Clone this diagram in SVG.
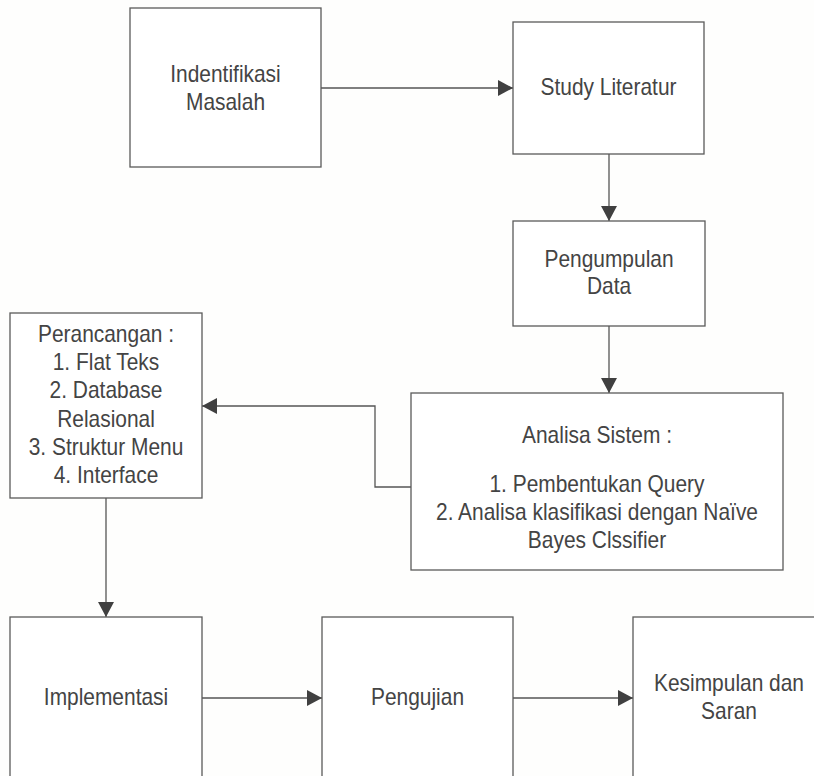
<svg xmlns="http://www.w3.org/2000/svg" width="814" height="776" viewBox="0 0 814 776">
<style>
.box{fill:#ffffff;stroke:#5a5a5a;stroke-width:1.3}
.lbl{font-family:"Liberation Sans",Arial,sans-serif;font-size:23px;fill:#444444;text-anchor:middle}
.conn{fill:none;stroke:#555555;stroke-width:1.3}
</style>
<defs>
<marker id="arr" markerUnits="userSpaceOnUse" markerWidth="17" markerHeight="17" refX="15" refY="8" orient="auto">
<path d="M0,0 L15,8 L0,16 z" fill="#404040"/>
</marker>
</defs>
<rect x="0" y="0" width="814" height="776" fill="#fefefd"/>
<g id="connectors">
<path class="conn" d="M321,88 H513" marker-end="url(#arr)"/>
<path class="conn" d="M609,154 V221" marker-end="url(#arr)"/>
<path class="conn" d="M609,326 V393" marker-end="url(#arr)"/>
<path class="conn" d="M411,487 H375 V406 H202" marker-end="url(#arr)"/>
<path class="conn" d="M106,498 V617" marker-end="url(#arr)"/>
<path class="conn" d="M202,698 H322" marker-end="url(#arr)"/>
<path class="conn" d="M513,698 H633" marker-end="url(#arr)"/>
</g>
<g id="identifikasi">
<rect class="box" x="130" y="8" width="191" height="159"/>
<g transform="translate(225.5 0) scale(0.91 1)">
<text class="lbl" x="0" y="82">Indentifikasi</text>
<text class="lbl" x="0" y="110">Masalah</text>
</g>
</g>
<g id="study">
<rect class="box" x="513" y="22" width="191" height="132"/>
<g transform="translate(608.5 0) scale(0.91 1)">
<text class="lbl" x="0" y="95">Study Literatur</text>
</g>
</g>
<g id="pengumpulan">
<rect class="box" x="513" y="221" width="192" height="105"/>
<g transform="translate(609 0) scale(0.91 1)">
<text class="lbl" x="0" y="267">Pengumpulan</text>
<text class="lbl" x="0" y="294">Data</text>
</g>
</g>
<g id="analisa">
<rect class="box" x="411" y="393" width="372" height="177"/>
<g transform="translate(597 0) scale(0.91 1)">
<text class="lbl" x="0" y="443">Analisa Sistem :</text>
<text class="lbl" x="0" y="492">1. Pembentukan Query</text>
<text class="lbl" x="0" y="520">2. Analisa klasifikasi dengan Naïve</text>
<text class="lbl" x="0" y="548">Bayes Clssifier</text>
</g>
</g>
<g id="perancangan">
<rect class="box" x="10" y="313" width="192" height="185"/>
<g transform="translate(106 0) scale(0.91 1)">
<text class="lbl" x="0" y="342">Perancangan :</text>
<text class="lbl" x="0" y="370">1. Flat Teks</text>
<text class="lbl" x="0" y="398">2. Database</text>
<text class="lbl" x="0" y="427">Relasional</text>
<text class="lbl" x="0" y="455">3. Struktur Menu</text>
<text class="lbl" x="0" y="483">4. Interface</text>
</g>
</g>
<g id="implementasi">
<rect class="box" x="10" y="617" width="192" height="170"/>
<g transform="translate(106 0) scale(0.91 1)">
<text class="lbl" x="0" y="705">Implementasi</text>
</g>
</g>
<g id="pengujian">
<rect class="box" x="322" y="617" width="191" height="170"/>
<g transform="translate(417.5 0) scale(0.91 1)">
<text class="lbl" x="0" y="705">Pengujian</text>
</g>
</g>
<g id="kesimpulan">
<rect class="box" x="633" y="617" width="192" height="170"/>
<g transform="translate(729 0) scale(0.91 1)">
<text class="lbl" x="0" y="691">Kesimpulan dan</text>
<text class="lbl" x="0" y="719">Saran</text>
</g>
</g>
</svg>
